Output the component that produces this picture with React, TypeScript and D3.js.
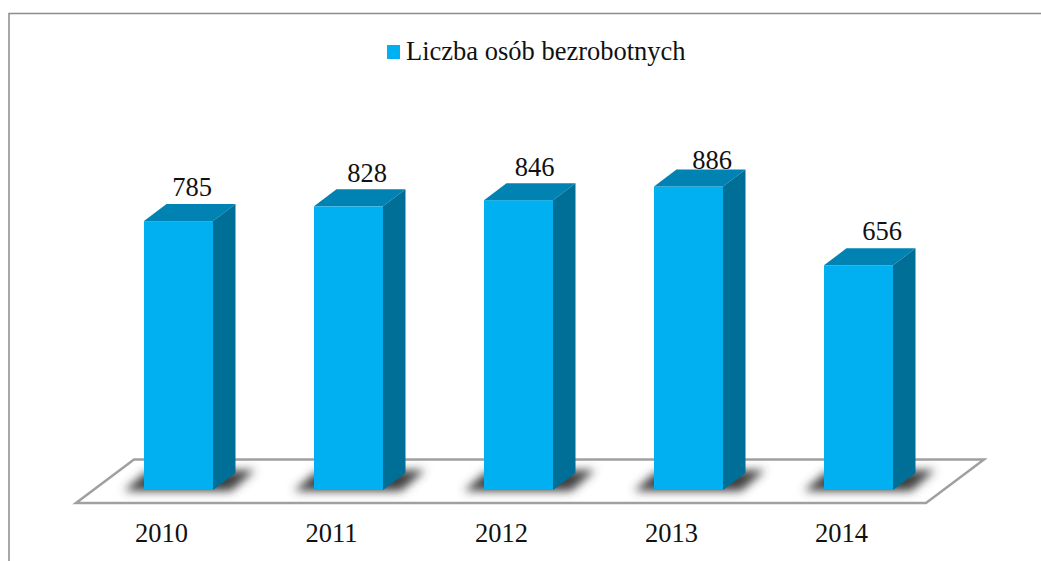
import React from "react";
import * as d3 from "d3";

const categories = ["2010", "2011", "2012", "2013", "2014"];
const values = [785, 828, 846, 886, 656];
const legendLabel = "Liczba osób bezrobotnych";

// hand-placed data label offsets relative to the bar's front face
const labelNudgeX = [13.5, 18.5, 16, 23.5, 23.5];
const labelNudgeY = [-25, -24, -24, -18, -25];

const W = 1041, H = 561;
const FRONT = "#00b0f0", TOP = "#0082b2", SIDE = "#006f98";
const GRID = "#a0a0a0";
const FONT = "'Liberation Serif', serif";
const DX = 22.5, DY = 17;
const BASE = 490;

const x = d3.scaleBand<string>().domain(categories).range([93.5, 943.5]).paddingInner(101 / 170).paddingOuter(50.5 / 170);
const y = d3.scaleLinear().domain([0, 886]).range([BASE, 186.5]);
const line = d3.line();

export default function App() {
  const bw = x.bandwidth();
  return (
    <svg width={W} height={H} viewBox={`0 0 ${W} ${H}`} style={{ position: "absolute", left: 0, top: 0, background: "#fff" }}>
      <defs>
        <filter id="blur" x="-30%" y="-60%" width="160%" height="220%">
          <feGaussianBlur stdDeviation="5" />
        </filter>
      </defs>
      <path d="M9 561V13.5H1041" fill="none" stroke="#8c8c8c" strokeWidth={1.5} />
      <rect x={387} y={45} width={13} height={14} fill={FRONT} />
      <text x={406} y={60} fontFamily={FONT} fontSize={26.5} fill="#111">{legendLabel}</text>
      <path d={line([[76, 503], [926, 503], [984, 459.5], [134, 459.5]])! + "Z"} fill="#fff" stroke={GRID} strokeWidth={2.5} />
      {categories.map((c, i) => {
        const x0 = x(c)!;
        const x1 = x0 + bw;
        const t = y(values[i]);
        return (
          <g key={c}>
            <path d={line([[x0 - 20, BASE + 1], [x0 + 2, 472], [x1 + 42, 470], [x1 + 18, BASE + 1]])! + "Z"} fill="#404040" filter="url(#blur)" />
            <rect x={x0} y={t} width={bw} height={BASE - t} fill={FRONT} />
            <path d={line([[x0, t], [x0 + DX, t - DY], [x1 + DX, t - DY], [x1, t]])! + "Z"} fill={TOP} />
            <path d={line([[x1, t], [x1 + DX, t - DY], [x1 + DX, BASE - DY], [x1, BASE]])! + "Z"} fill={SIDE} />
            <text x={x0 + bw / 2 + labelNudgeX[i]} y={t + labelNudgeY[i]} textAnchor="middle" fontFamily={FONT} fontSize={26.5} fill="#111">{values[i]}</text>
            <text x={x0 + bw / 2 - 17} y={542} textAnchor="middle" fontFamily={FONT} fontSize={26.5} fill="#111">{c}</text>
          </g>
        );
      })}
    </svg>
  );
}
